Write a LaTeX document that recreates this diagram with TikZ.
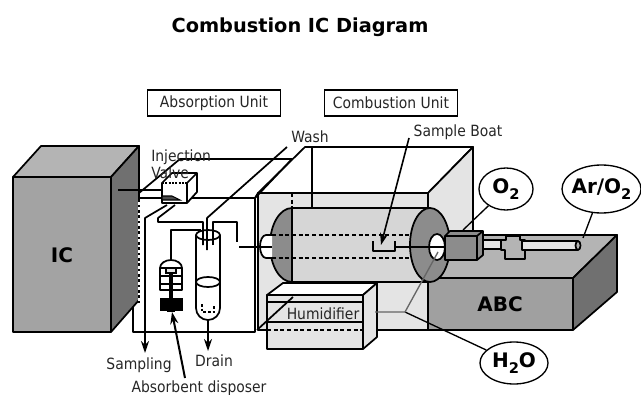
\documentclass[tikz,border=0pt]{standalone}
\usepackage{fontspec}
\setmainfont{DejaVu Sans}
\usetikzlibrary{arrows.meta,shapes.geometric}
\definecolor{lg}{HTML}{E4E4E4}
\definecolor{cyl}{HTML}{D6D6D6}
\definecolor{mg}{HTML}{A0A0A0}
\definecolor{tg}{HTML}{B4B4B4}
\definecolor{dg}{HTML}{707070}
\definecolor{rg}{HTML}{8C8C8C}
\newcommand{\subtwo}{\raisebox{-.3em}{\fontsize{11pt}{12pt}\selectfont 2}}
\tikzset{
  x=0.75pt,y=-0.75pt,
  every node/.style={inner sep=0pt,text=black!85},
  ln/.style={draw=black,line width=1.3pt,line join=round},
  thin ln/.style={draw=black,line width=1pt,line join=round},
  dsh/.style={draw=black,line width=1.1pt,dash pattern=on 3pt off 2pt},
  arr/.style={draw=black,line width=1.2pt,-{Stealth[length=9pt,width=6pt]}},
  lab/.style={font=\fontsize{11.6pt}{13pt}\selectfont\addfontfeatures{FakeStretch=0.9}},
  big/.style={font=\fontsize{15pt}{17pt}\selectfont\bfseries,text=black},
  gas/.style={ellipse,draw=black,line width=1pt,fill=white,font=\fontsize{15pt}{17pt}\selectfont\bfseries,text=black},
  unit/.style={draw=black,line width=1pt,fill=white,minimum width=100pt,minimum height=19.5pt,font=\fontsize{11.6pt}{13pt}\selectfont\addfontfeatures{FakeStretch=0.9}},
}
\begin{document}
\begin{tikzpicture}
\useasboundingbox (0,0) rectangle (641,395);
% title
\node[font=\fontsize{14.5pt}{17pt}\selectfont\bfseries,text=black] (title) at (300,27) {Combustion IC Diagram};
\node[unit] (ua) at (214,103) {Absorption Unit};
\node[unit] (uc) at (391,103) {Combustion Unit};
% combustion chamber box
\path[ln,fill=white] (258,193) -- (305,147) -- (473,147) -- (428,193) -- cycle;
\path[ln,fill=lg] (428,193) -- (473,147) -- (473,235) -- (428,278) -- cycle;
\path[ln,fill=lg] (258,193) rectangle (428,330);
\draw[ln] (312,147) -- (312,208);
% absorption unit box
\path[ln] (133,198) -- (180,159) -- (292,159) -- (255,198);
\path[ln,fill=white] (133,198) rectangle (255,332);
\draw[ln] (255,198) -- (258,193);
% IC
\path[ln,fill=rg!80] (13,177) rectangle (111,332);
\path[ln,fill=tg] (13,177) -- (41,146) -- (139,146) -- (111,177) -- cycle;
\path[ln,fill=dg] (111,177) -- (139,146) -- (139,300) -- (111,332) -- cycle;
\node[big] (ic) at (62,255) {IC};
\draw[thin ln] (139,202) -- (139,303);
\draw[draw=white,line width=1pt,dash pattern=on 2pt off 2pt] (139,202) -- (139,303);
% cylinder
\path[ln,fill=cyl] (292,208) -- (430,208) -- (430,282) -- (292,282) -- cycle;
\path[ln,fill=rg] (292,208) arc[start angle=270,end angle=90,x radius=22,y radius=37] -- cycle;
\path[ln,fill=white] (272,235) -- (266,235) arc[start angle=270,end angle=90,x radius=6,y radius=11.5] -- (272,258);
\draw[dsh] (292,193) -- (292,282);
\draw[dsh] (272,235) -- (412,235);
\draw[dsh] (272,258) -- (412,258);
% ABC
\path[ln,fill=tg] (428,278) -- (473,235) -- (617,235) -- (573,278) -- cycle;
\path[ln,fill=mg] (428,278) rectangle (573,330);
\path[ln,fill=dg] (573,278) -- (617,235) -- (617,292) -- (573,330) -- cycle;
\node[big] (abc) at (500,304) {ABC};
\path[ln,fill=rg] (430,245) ellipse [x radius=20,y radius=37];
\path[ln,fill=white] (437,247) ellipse [x radius=8,y radius=13];
% boat
\coordinate (boat) at (381,245);
\draw[ln] (373,241) -- (373,251) -- (395,251) -- (395,241);
\draw[thin ln] (395,247) -- (445,247);
% sockets and tubes
\path[ln,fill=rg] (445,236) -- (450,231) -- (483,231) -- (483,255) -- (477,260) -- (445,260) -- cycle;
\draw[ln] (445,236) -- (477,236) -- (477,260);
\draw[ln] (477,236) -- (483,231);
\path[ln,fill=lg] (483,240) rectangle (503,249);
\path[ln,fill=tg] (506,236) -- (520,236) -- (520,240) -- (525,240) -- (525,259) -- (505,259) -- (505,250) -- (501,250) -- (501,240) -- (506,240) -- cycle;
\path[ln,fill=lg] (522,241) rectangle (578,250);
\draw[ln,fill=tg] (578,245.5) ellipse [x radius=2.5,y radius=4.5];
% humidifier
\path[ln,fill=white] (267,295) -- (283,283) -- (377,283) -- (363,295) -- cycle;
\path[ln,fill=lg] (267,295) rectangle (363,349);
\path[ln,fill=lg] (363,295) -- (377,283) -- (377,337) -- (363,349) -- cycle;
\draw[ln] (267,302) -- (363,302);
\draw[ln] (267,322) -- (363,322);
\draw[dsh] (267,330) -- (363,330);
\draw[ln] (293,297) -- (257,330);
\node[lab] (hum) at (323,314) {Humidifier};
% valve
\path[ln,fill=white] (162,183) -- (172,173) -- (197,173) -- (197,192) -- (187,203) -- (162,203) -- cycle;
\draw[ln] (187,183) -- (187,203);
\draw[ln] (187,183) -- (197,173);
\draw[draw=black,line width=1pt,dash pattern=on 1.5pt off 1pt] (162,183) -- (187,183);
\path[draw=black,fill=black!70,line width=.8pt] (162,196) -- (172,196) -- (180,200) -- (162,200) -- cycle;
\draw[thin ln] (118,190) -- (162,190);
\node[lab,anchor=west] (iv1) at (151,157) {Injection};
\node[lab,anchor=west] (iv2) at (151,173) {Valve};
\coordinate (v1) at (167,205);
\coordinate (v2) at (175,205);
% tube
\path[ln,fill=white] (196,235) -- (196,308) arc[start angle=180,end angle=0,x radius=12,y radius=12] -- (220,235);
\draw[ln] (208,235) ellipse [x radius=12,y radius=5];
\draw[ln] (208,282) ellipse [x radius=12,y radius=5];
\draw[draw=black,line width=.9pt,dash pattern=on 2pt off 1.5pt] (202,304) -- (202,312) -- (214,312) -- (214,304);
\coordinate (tb) at (208,320);
% pump
\path[ln,fill=white] (160,290) -- (160,268) arc[start angle=180,end angle=360,x radius=11,y radius=8] -- (182,290) -- cycle;
\foreach \yy in {268,276,284} \draw[thin ln] (160,\yy) -- (182,\yy);
\path[draw=black,fill=lg,line width=1pt] (166,268) rectangle (176,273);
\draw[line width=3pt,black] (171,274) -- (171,298);
\path[fill=black,draw=black] (160,298) rectangle (182,310);
\path[fill=black] (167,310) rectangle (175,312);
\coordinate (pt) at (171,260);
\coordinate (ps) at (172,312);
% pipework
\draw[ln] (v1) -- (145,218) -- (145,240);
\draw[arr] (145,240) -- (145,353);
\draw[ln] (v2) -- (158,218) -- (158,222) -- (203,222) -- (203,245);
\draw[ln] (213,245) -- (213,222) -- (237,222) -- (237,242);
\draw[ln] (239,247) -- (272,247);
\draw[ln] (pt) -- (171,230) -- (201,230);
\coordinate (w) at (287,147);
\draw[ln] (w) -- (207,218) -- (207,250);
\draw[arr] (tb) -- (208,351);
% labels below
\node[lab] (sam) at (139,365) {Sampling};
\node[lab] (dr) at (214,361) {Drain};
\node[lab] (ad) at (199,388) {Absorbent disposer};
\draw[arr,line width=1.5pt] (185,378) -- (ps);
\node[lab] (wa) at (310,137) {Wash};
\node[lab] (sb) at (458,132) {Sample Boat};
\draw[arr,line width=1.2pt] (409,138) -- (boat);
% gases
\node[gas,minimum width=54pt*.75,minimum height=42pt*.75] (o2) at (506,189) {O\subtwo};
\node[gas,inner xsep=-4pt,minimum width=79pt*.75,minimum height=48pt*.75] (ar) at (601.5,189) {Ar/O\subtwo};
\node[gas,minimum width=68pt*.75,minimum height=42pt*.75] (h2o) at (514,363) {H\subtwo O};
\coordinate (oe) at (463,230);
\coordinate (ae) at (583,238);
\coordinate (j) at (405,312);
\coordinate (hi) at (375,312);
\coordinate (hole) at (438,252);
\draw[thin ln] (o2) -- (oe);
\draw[thin ln] (ar) -- (ae);
\draw[thin ln] (j) -- (h2o);
\draw[draw=black!60,line width=1pt] (hi) -- (j) -- (hole);
\end{tikzpicture}
\end{document}
